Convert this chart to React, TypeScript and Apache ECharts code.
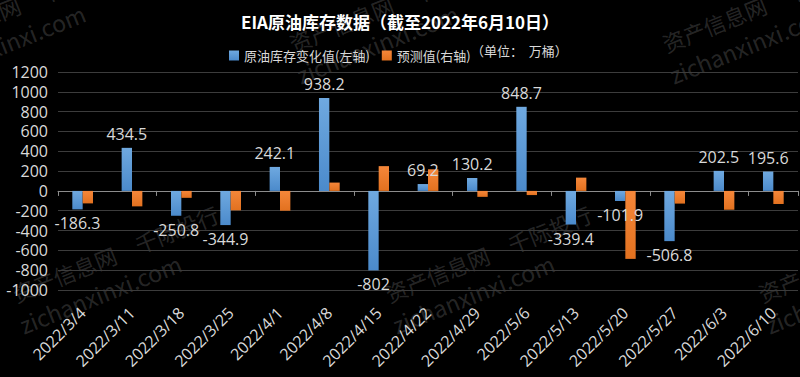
import React, { useEffect, useRef } from "react";
import * as echarts from "echarts";

const categories = [
  "2022/3/4", "2022/3/11", "2022/3/18", "2022/3/25", "2022/4/1", "2022/4/8", "2022/4/15",
  "2022/4/22", "2022/4/29", "2022/5/6", "2022/5/13", "2022/5/20", "2022/5/27", "2022/6/3", "2022/6/10",
];
const inventoryChange = [
  -186.3, 434.5, -250.8, -344.9, 242.1, 938.2, -802, 69.2, 130.2, 848.7, -339.4, -101.9, -506.8, 202.5, 195.6,
];
const forecast = [-63, -78, -35, -98, -100, 42, 125, 109, -30, -21, 67, -343, -64, -95, -66];

const seriesNames = ["原油库存变化值(左轴)", "预测值(右轴)"];
const titleText = "EIA原油库存数据（截至2022年6月10日）";
const unitText = "（单位：  万桶）";
const leftAxis = { min: -1000, max: 1200, interval: 200 };
const rightAxis = { min: -500, max: 600, interval: 100 };
const watermarkLines = ["资产信息网　千际投行", "zichanxinxi.com"];
const watermarkAnchors = [
  [13, 294], [386, 294], [759, 294], [-83, 44], [290, 44], [663, 44],
];

const CJK = '"Noto Sans CJK SC", "Noto Sans", sans-serif';
const NUM = '"Open Sans", "Noto Sans", sans-serif';
const LABEL = "#d9d9d9";

export default function App() {
  const ref = useRef<HTMLDivElement>(null);
  useEffect(() => {
    if (!ref.current) return;
    const chart = echarts.init(ref.current, null, { renderer: "svg" });
    const wmFill = "rgba(128,128,128,0.3)";
    const watermarks = watermarkAnchors.map(([x, y]) => ({
      type: "group",
      x,
      y,
      rotation: 0.38,
      silent: true,
      z: 100,
      children: [
        { type: "text", x: 0, y: 0, style: { text: watermarkLines[0], fontSize: 22, fontFamily: CJK, fill: wmFill, verticalAlign: "middle" } },
        { type: "text", x: -5, y: 32, style: { text: watermarkLines[1], fontSize: 23, fontFamily: CJK, fill: wmFill, verticalAlign: "middle" } },
      ],
    }));
    chart.setOption({
      animation: false,
      backgroundColor: "#000000",
      title: {
        text: titleText,
        left: "center",
        top: 8,
        textStyle: { color: "#ffffff", fontSize: 17, fontWeight: "bold", fontFamily: CJK },
      },
      legend: {
        left: 224,
        top: 44,
        icon: "rect",
        itemWidth: 10,
        itemHeight: 10,
        itemGap: 12,
        textStyle: { color: LABEL, fontSize: 13, fontFamily: CJK },
        data: seriesNames,
      },
      graphic: [
        {
          type: "text",
          left: 471,
          top: 44,
          style: { text: unitText, fontSize: 13, fontFamily: CJK, fill: LABEL },
        },
        ...watermarks,
      ],
      grid: { left: 58, right: 2, top: 72, bottom: 87, containLabel: false },
      xAxis: [
        {
          type: "category",
          data: categories,
          axisLine: { onZero: true, lineStyle: { color: "#8c8c8c", width: 1 } },
          axisTick: { show: true, length: 5, lineStyle: { color: "#8c8c8c" } },
          axisLabel: { show: false },
        },
        {
          type: "category",
          data: categories,
          position: "bottom",
          axisLine: { show: false, onZero: false },
          axisTick: { show: false },
          axisLabel: {
            interval: 0,
            rotate: 45,
            margin: 20,
            color: LABEL,
            fontSize: 16,
            fontFamily: NUM,
          },
        },
      ],
      yAxis: [
        {
          type: "value",
          min: leftAxis.min,
          max: leftAxis.max,
          interval: leftAxis.interval,
          axisLine: { show: false },
          axisTick: { show: false },
          axisLabel: {
            color: LABEL,
            fontSize: 16,
            fontFamily: NUM,
            margin: 10,
            formatter: (v: number) => String(v),
          },
          splitLine: { lineStyle: { color: "#3c3c3c", width: 1 } },
        },
        {
          type: "value",
          min: rightAxis.min,
          max: rightAxis.max,
          interval: rightAxis.interval,
          show: false,
          splitLine: { show: false },
        },
      ],
      series: [
        {
          name: seriesNames[0],
          type: "bar",
          xAxisIndex: 0,
          yAxisIndex: 0,
          barWidth: "21%",
          barGap: "0%",
          itemStyle: {
            color: new echarts.graphic.LinearGradient(0, 0, 0, 1, [
              { offset: 0, color: "#6fa9e0" },
              { offset: 1, color: "#4b8acb" },
            ]),
          },
          data: inventoryChange.map((v) => ({
            value: v,
            label: { position: v >= 0 ? "top" : "bottom" },
          })),
          label: {
            show: true,
            distance: 6,
            color: LABEL,
            fontSize: 16,
            fontFamily: NUM,
          },
          z: 2,
        },
        {
          name: seriesNames[1],
          type: "bar",
          xAxisIndex: 0,
          yAxisIndex: 1,
          barWidth: "21%",
          barGap: "0%",
          itemStyle: {
            color: new echarts.graphic.LinearGradient(0, 0, 0, 1, [
              { offset: 0, color: "#f5873a" },
              { offset: 1, color: "#e2711f" },
            ]),
          },
          data: forecast,
          z: 2,
        },
      ],
    });
    return () => chart.dispose();
  }, []);
  return (
    <div
      ref={ref}
      style={{ position: "fixed", left: 0, top: 0, width: 800, height: 377 }}
    />
  );
}
